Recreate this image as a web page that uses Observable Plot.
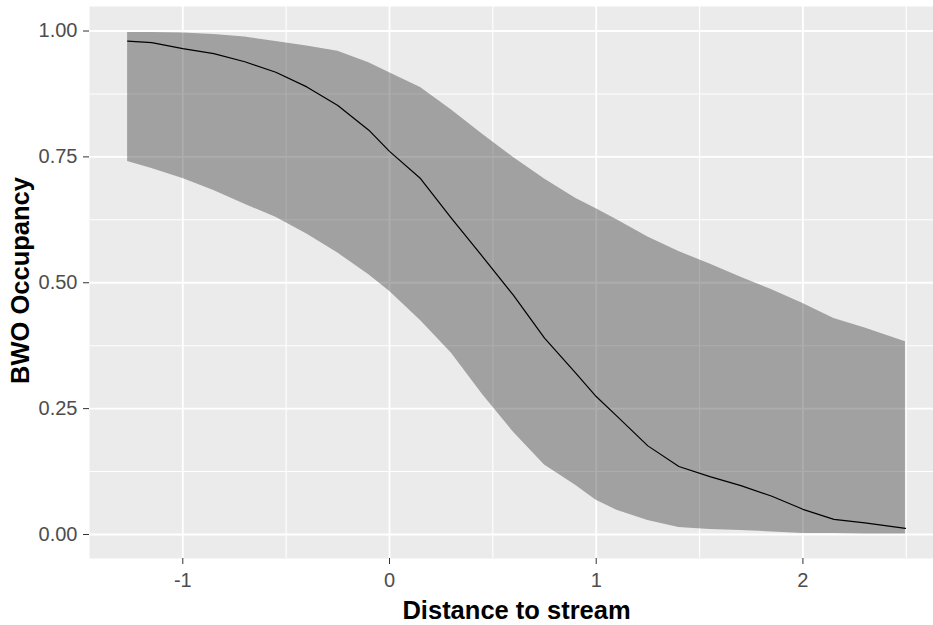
<!DOCTYPE html>
<html>
<head>
<meta charset="utf-8">
<script src="https://cdn.jsdelivr.net/npm/d3@7"></script>
<script src="https://cdn.jsdelivr.net/npm/@observablehq/plot@0.6"></script>
<style>
  html, body { margin: 0; padding: 0; background: #fff; overflow: hidden; }
  #chart { width: 933px; height: 625px; overflow: hidden; }
</style>
</head>
<body>
<div id="chart"></div>
<script>
// Distance to stream (x)
const distance = [-1.267, -1.15, -1.0, -0.85, -0.7, -0.55, -0.4, -0.25, -0.1, 0, 0.15, 0.3, 0.45, 0.6, 0.75, 0.9, 1.0, 1.1, 1.25, 1.4, 1.55, 1.7, 1.85, 2.0, 2.15, 2.3, 2.496];
// fitted occupancy
const fit = [0.980, 0.977, 0.965, 0.955, 0.939, 0.918, 0.889, 0.852, 0.803, 0.761, 0.707, 0.628, 0.552, 0.475, 0.39, 0.321, 0.274, 0.235, 0.176, 0.135, 0.115, 0.097, 0.076, 0.050, 0.030, 0.023, 0.012];
// lower confidence bound
const lower = [0.741, 0.727, 0.707, 0.683, 0.656, 0.630, 0.597, 0.559, 0.516, 0.483, 0.425, 0.360, 0.278, 0.203, 0.138, 0.098, 0.068, 0.048, 0.028, 0.014, 0.010, 0.008, 0.005, 0.002, 0.002, 0.001, 0.001];
// upper confidence bound
const upper = [0.997, 0.997, 0.996, 0.993, 0.988, 0.979, 0.970, 0.960, 0.937, 0.917, 0.888, 0.843, 0.795, 0.749, 0.706, 0.668, 0.647, 0.625, 0.591, 0.562, 0.537, 0.511, 0.486, 0.459, 0.429, 0.410, 0.383];

const xMajor = [-1, 0, 1, 2];
const xMinor = [-0.5, 0.5, 1.5, 2.5];
const yMajor = [0, 0.25, 0.5, 0.75, 1];
const yMinor = [0.125, 0.375, 0.625, 0.875];

const xTitle = "Distance to stream";
const yTitle = "BWO Occupancy";

const data = distance.map((x, i) => ({x, fit: fit[i], lower: lower[i], upper: upper[i]}));

const xDomain = [-1.4514, 2.6318];
const yDomain = [-0.0477, 1.0487];
const xMid = (-1.455 + 2.684) / 2;
const yMid = (-0.0477 + 1.0487) / 2 + 0.004;

const chart = Plot.plot({
  width: 933,
  height: 625,
  marginLeft: 89,
  marginRight: 0,
  marginTop: 6,
  marginBottom: 67,
  style: {fontFamily: "'Liberation Sans', Arial, sans-serif", background: "#fff", overflow: "visible"},
  x: {domain: xDomain},
  y: {domain: yDomain},
  marks: [
    Plot.frame({fill: "#EBEBEB"}),
    Plot.ruleX(xMinor, {stroke: "#fff", strokeWidth: 1.1}),
    Plot.ruleY(yMinor, {stroke: "#fff", strokeWidth: 1.1}),
    Plot.ruleX(xMajor, {stroke: "#fff", strokeWidth: 1.8}),
    Plot.ruleY(yMajor, {stroke: "#fff", strokeWidth: 1.8}),
    Plot.areaY(data, {x: "x", y1: "lower", y2: "upper", fill: "#333333", fillOpacity: 0.4}),
    Plot.lineY(data, {x: "x", y: "fit", stroke: "#000", strokeWidth: 1.2}),
    Plot.axisX(xMajor, {tickSize: 6, tickPadding: 8, fontSize: 20, stroke: "#333", fill: "#4D4D4D", tickFormat: d => String(d), label: null}),
    Plot.axisY(yMajor, {tickSize: 6, tickPadding: 6, fontSize: 20, stroke: "#333", fill: "#4D4D4D", tickFormat: d => d.toFixed(2), label: null}),
    Plot.text([xTitle], {x: () => xMid, frameAnchor: "bottom", dy: 52, text: d => d, fontSize: 25.5, fontWeight: "bold", fill: "#000", textAnchor: "middle", lineAnchor: "middle"}),
    Plot.text([yTitle], {y: () => yMid, frameAnchor: "left", dx: -69, rotate: -90, text: d => d, fontSize: 25.5, fontWeight: "bold", fill: "#000", textAnchor: "middle", lineAnchor: "middle"})
  ]
});
document.getElementById("chart").appendChild(chart);
</script>
</body>
</html>
